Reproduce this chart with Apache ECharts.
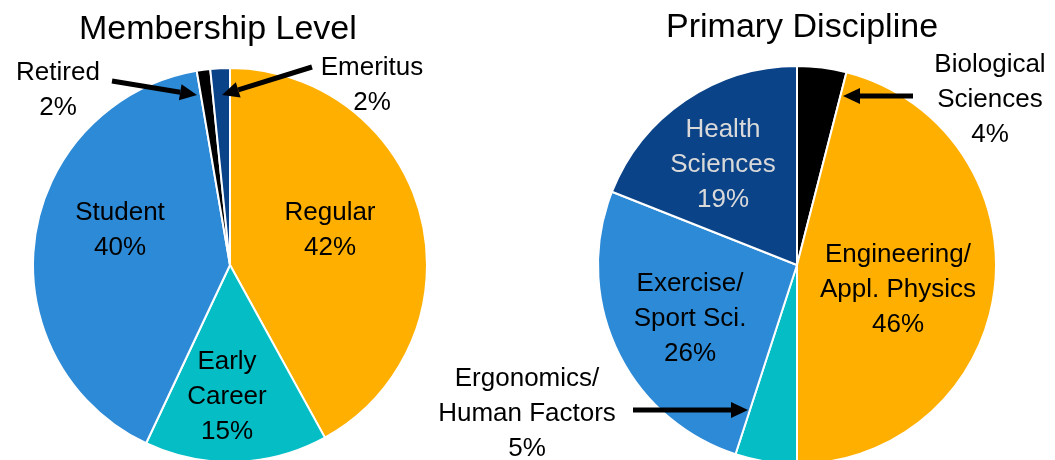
<!DOCTYPE html>
<html>
<head>
<meta charset="utf-8">
<script src="https://cdn.jsdelivr.net/npm/echarts@6/dist/echarts.min.js"></script>
<style>
  html, body { margin: 0; padding: 0; background: #fff; }
  #chart { width: 1055px; height: 460px; }
</style>
</head>
<body>
<div id="chart"></div>
<script>
// Membership Level (clockwise from 12 o'clock)
const memberNames = ['Regular', 'Early\nCareer', 'Student', 'Retired', 'Emeritus']
const memberValues = [42, 15, 40.3, 1.1, 1.6]
const memberPct = ['42%', '15%', '40%', '2%', '2%']
const memberColors = ['#FFAF00', '#05BDC4', '#2D8AD6', '#000000', '#0B4389']

// Primary Discipline (clockwise from 12 o'clock)
const discNames = ['Biological\nSciences', 'Engineering/\nAppl. Physics', 'Ergonomics/\nHuman Factors', 'Exercise/\nSport Sci.', 'Health\nSciences']
const discValues = [4, 46, 5, 26, 19]
const discPct = ['4%', '46%', '5%', '26%', '19%']
const discColors = ['#000000', '#FFAF00', '#05BDC4', '#2D8AD6', '#0B4389']

// label anchor points (pixel), per series / data index
const memberLabelPos = [[330, 230], [227, 397], [120, 230], [58, 90], [372, 85]]
const discLabelPos = [[990, 100], [898, 290], [527, 414], [690, 319], [723, 165]]

const font = "'Liberation Sans', Arial, sans-serif"

// arrow helper for the callout arrows
const arrow = (x1, y1, x2, y2) => {
  const dx = x2 - x1, dy = y2 - y1
  const len = Math.sqrt(dx * dx + dy * dy)
  const ux = dx / len, uy = dy / len
  const head = 17, half = 8
  const bx = x2 - ux * head, by = y2 - uy * head
  return [
    {
      type: 'line',
      z: 100,
      shape: { x1: x1, y1: y1, x2: bx, y2: by },
      style: { stroke: '#000', lineWidth: 5 }
    },
    {
      type: 'polygon',
      z: 100,
      shape: { points: [[x2, y2], [bx - uy * half, by + ux * half], [bx + uy * half, by - ux * half]] },
      style: { fill: '#000' }
    }
  ]
}

const makeData = (names, values, pct, colors, lightIdx) => names.map((n, i) => ({
  name: n,
  value: values[i],
  itemStyle: { color: colors[i] },
  label: {
    color: i === lightIdx ? '#D9D9D9' : '#000',
    formatter: n + '\n' + pct[i]
  }
}))

const pieBase = {
  type: 'pie',
  startAngle: 90,
  clockwise: true,
  avoidLabelOverlap: false,
  itemStyle: { borderColor: '#fff', borderWidth: 2 },
  label: {
    position: 'inside',
    fontFamily: font,
    fontSize: 26,
    lineHeight: 35
  },
  labelLine: { show: false }
}

const chart = echarts.init(document.getElementById('chart'))
chart.setOption({
  animation: false,
  backgroundColor: '#fff',
  title: [
    {
      text: 'Membership Level',
      left: 74,
      top: 8,
      textStyle: { fontFamily: font, fontSize: 34, fontWeight: 'normal', color: '#000' }
    },
    {
      text: 'Primary Discipline',
      left: 661,
      top: 6,
      textStyle: { fontFamily: font, fontSize: 34, fontWeight: 'normal', color: '#000' }
    }
  ],
  series: [
    Object.assign({}, pieBase, {
      name: 'Membership Level',
      center: [230, 265],
      radius: 197,
      labelLayout: p => ({
        x: memberLabelPos[p.dataIndex][0],
        y: memberLabelPos[p.dataIndex][1],
        align: 'center',
        verticalAlign: 'middle'
      }),
      data: makeData(memberNames, memberValues, memberPct, memberColors, -1)
    }),
    Object.assign({}, pieBase, {
      name: 'Primary Discipline',
      center: [797, 265],
      radius: 199,
      labelLayout: p => ({
        x: discLabelPos[p.dataIndex][0],
        y: discLabelPos[p.dataIndex][1],
        align: 'center',
        verticalAlign: 'middle'
      }),
      data: makeData(discNames, discValues, discPct, discColors, 4)
    })
  ],
  graphic: [].concat(
    arrow(112, 81, 197, 95),
    arrow(312, 67, 222, 95),
    arrow(913, 96, 843, 96),
    arrow(633, 410, 748, 410)
  )
})

window.addEventListener('resize', () => {
  chart && chart.resize()
})
</script>
</body>
</html>
